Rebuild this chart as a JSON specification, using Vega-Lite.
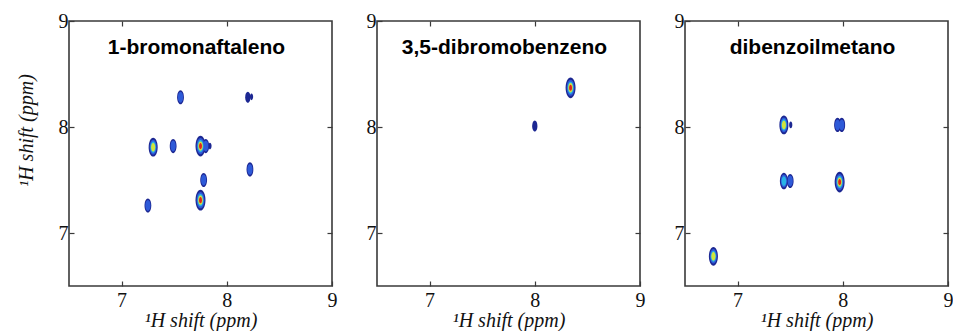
{
  "$schema": "https://vega.github.io/schema/vega-lite/v6.json",
  "background": "white",
  "padding": {"left": 15, "top": 10, "right": 0, "bottom": 0},
  "bounds": "flush",
  "spacing": 45,
  "datasets": {
    "peaks": [
      {"panel": "A", "f2": 7.56, "f1": 8.28, "intensity": 2},
      {"panel": "A", "f2": 8.2, "f1": 8.28, "intensity": 1},
      {"panel": "A", "f2": 8.235, "f1": 8.285, "intensity": 0},
      {"panel": "A", "f2": 7.3, "f1": 7.81, "intensity": 4},
      {"panel": "A", "f2": 7.49, "f1": 7.82, "intensity": 2},
      {"panel": "A", "f2": 7.75, "f1": 7.82, "intensity": 5},
      {"panel": "A", "f2": 7.8, "f1": 7.82, "intensity": 2},
      {"panel": "A", "f2": 7.84, "f1": 7.82, "intensity": 0},
      {"panel": "A", "f2": 7.78, "f1": 7.5, "intensity": 2},
      {"panel": "A", "f2": 7.75, "f1": 7.31, "intensity": 5},
      {"panel": "A", "f2": 8.22, "f1": 7.6, "intensity": 2},
      {"panel": "A", "f2": 7.25, "f1": 7.26, "intensity": 2},
      {"panel": "B", "f2": 8.0, "f1": 8.01, "intensity": 1},
      {"panel": "B", "f2": 8.34, "f1": 8.37, "intensity": 5},
      {"panel": "C", "f2": 6.77, "f1": 6.78, "intensity": 4},
      {"panel": "C", "f2": 7.44, "f1": 8.02, "intensity": 4},
      {"panel": "C", "f2": 7.505, "f1": 8.02, "intensity": 0},
      {"panel": "C", "f2": 7.95, "f1": 8.02, "intensity": 2},
      {"panel": "C", "f2": 7.99, "f1": 8.02, "intensity": 2},
      {"panel": "C", "f2": 7.44, "f1": 7.49, "intensity": 3},
      {"panel": "C", "f2": 7.5, "f1": 7.49, "intensity": 2},
      {"panel": "C", "f2": 7.97, "f1": 7.48, "intensity": 5}
    ]
  },
  "config": {
    "view": {"stroke": "#3a3a3a", "strokeWidth": 1.6},
    "axis": {
      "grid": false, "domain": false, "ticks": true, "tickSize": -5, "tickColor": "#3a3a3a", "tickWidth": 1.2,
      "labelFont": "Liberation Serif", "labelFontSize": 20, "labelColor": "#111", "labelFlush": false, "labelOverlap": false,
      "titleFont": "Liberation Serif", "titleFontStyle": "italic", "titleFontWeight": "normal", "titleFontSize": 20, "titleColor": "#111"
    },
    "axisX": {"labelPadding": 9, "titlePadding": 0},
    "axisY": {"labelPadding": 6, "titlePadding": 22},
    "title": {"font": "Liberation Sans", "fontSize": 21, "fontWeight": "bold", "color": "#000", "anchor": "middle", "frame": "group", "baseline": "alphabetic", "offset": -47}
  },
  "hconcat": [
    {
      "width": 263, "height": 265,
      "title": {"text": "1-bromonaftaleno", "dx": -4},
      "data": {"name": "peaks"},
      "transform": [{"filter": "datum.panel === 'A'"}],
      "layer": [
        {"mark": {"type": "point", "shape": "M0,-1C0.265,-1 0.48,-0.552 0.48,0C0.48,0.552 0.265,1 0,1C-0.265,1 -0.48,0.552 -0.48,0C-0.48,-0.552 -0.265,-1 0,-1Z", "filled": true, "color": "#1c2792", "opacity": 1, "strokeWidth": 0},
         "encoding": {
           "x": {"field": "f2", "type": "quantitative", "scale": {"domain": [6.5, 9], "nice": false, "zero": false}, "axis": {"values": [7, 8, 9], "title": "¹H shift (ppm)"}},
           "y": {"field": "f1", "type": "quantitative", "scale": {"domain": [6.5, 9], "nice": false, "zero": false}, "axis": {"values": [7, 8, 9], "title": "¹H shift (ppm)", "titleY": 109}},
           "size": {"field": "intensity", "type": "quantitative", "scale": {"domain": [0, 5], "range": [45, 430], "zero": false}, "legend": null}}},
        {"transform": [{"filter": "datum.intensity >= 2"}],
         "mark": {"type": "point", "shape": "M0,-1C0.265,-1 0.48,-0.552 0.48,0C0.48,0.552 0.265,1 0,1C-0.265,1 -0.48,0.552 -0.48,0C-0.48,-0.552 -0.265,-1 0,-1Z", "filled": true, "color": "#2e5ad8", "opacity": 1, "strokeWidth": 0},
         "encoding": {
           "x": {"field": "f2", "type": "quantitative", "scale": {"domain": [6.5, 9], "nice": false, "zero": false}, "axis": null},
           "y": {"field": "f1", "type": "quantitative", "scale": {"domain": [6.5, 9], "nice": false, "zero": false}, "axis": null},
           "size": {"field": "intensity", "type": "quantitative", "scale": {"domain": [0, 5], "range": [26, 260], "zero": false}, "legend": null}}},
        {"transform": [{"filter": "datum.intensity >= 3"}],
         "mark": {"type": "point", "shape": "M0,-1C0.265,-1 0.48,-0.552 0.48,0C0.48,0.552 0.265,1 0,1C-0.265,1 -0.48,0.552 -0.48,0C-0.48,-0.552 -0.265,-1 0,-1Z", "filled": true, "color": "#28b4e6", "opacity": 1, "strokeWidth": 0},
         "encoding": {
           "x": {"field": "f2", "type": "quantitative", "scale": {"domain": [6.5, 9], "nice": false, "zero": false}, "axis": null},
           "y": {"field": "f1", "type": "quantitative", "scale": {"domain": [6.5, 9], "nice": false, "zero": false}, "axis": null},
           "size": {"field": "intensity", "type": "quantitative", "scale": {"domain": [0, 5], "range": [15, 150], "zero": false}, "legend": null}}},
        {"transform": [{"filter": "datum.intensity >= 4"}],
         "mark": {"type": "point", "shape": "M0,-1C0.265,-1 0.48,-0.552 0.48,0C0.48,0.552 0.265,1 0,1C-0.265,1 -0.48,0.552 -0.48,0C-0.48,-0.552 -0.265,-1 0,-1Z", "filled": true, "color": "#d2e43c", "opacity": 1, "strokeWidth": 0},
         "encoding": {
           "x": {"field": "f2", "type": "quantitative", "scale": {"domain": [6.5, 9], "nice": false, "zero": false}, "axis": null},
           "y": {"field": "f1", "type": "quantitative", "scale": {"domain": [6.5, 9], "nice": false, "zero": false}, "axis": null},
           "size": {"field": "intensity", "type": "quantitative", "scale": {"domain": [0, 5], "range": [9, 88], "zero": false}, "legend": null}}},
        {"transform": [{"filter": "datum.intensity >= 5"}],
         "mark": {"type": "point", "shape": "M0,-1C0.265,-1 0.48,-0.552 0.48,0C0.48,0.552 0.265,1 0,1C-0.265,1 -0.48,0.552 -0.48,0C-0.48,-0.552 -0.265,-1 0,-1Z", "filled": true, "color": "#e3241b", "opacity": 1, "strokeWidth": 0},
         "encoding": {
           "x": {"field": "f2", "type": "quantitative", "scale": {"domain": [6.5, 9], "nice": false, "zero": false}, "axis": null},
           "y": {"field": "f1", "type": "quantitative", "scale": {"domain": [6.5, 9], "nice": false, "zero": false}, "axis": null},
           "size": {"field": "intensity", "type": "quantitative", "scale": {"domain": [0, 5], "range": [4, 38], "zero": false}, "legend": null}}},
        {"mark": {"type": "point", "opacity": 0},
         "encoding": {
           "x": {"field": "f2", "type": "quantitative", "scale": {"domain": [6.5, 9], "nice": false, "zero": false}, "axis": {"orient": "top", "values": [7, 8], "labels": false, "title": null}},
           "y": {"field": "f1", "type": "quantitative", "scale": {"domain": [6.5, 9], "nice": false, "zero": false}, "axis": {"orient": "right", "values": [7, 8], "labels": false, "title": null}}}}
      ],
      "resolve": {"scale": {"size": "independent"}, "axis": {"x": "independent", "y": "independent"}}
    },
    {
      "width": 263, "height": 265,
      "title": {"text": "3,5-dibromobenzeno", "dx": -4},
      "data": {"name": "peaks"},
      "transform": [{"filter": "datum.panel === 'B'"}],
      "layer": [
        {"mark": {"type": "point", "shape": "M0,-1C0.265,-1 0.48,-0.552 0.48,0C0.48,0.552 0.265,1 0,1C-0.265,1 -0.48,0.552 -0.48,0C-0.48,-0.552 -0.265,-1 0,-1Z", "filled": true, "color": "#1c2792", "opacity": 1, "strokeWidth": 0},
         "encoding": {
           "x": {"field": "f2", "type": "quantitative", "scale": {"domain": [6.5, 9], "nice": false, "zero": false}, "axis": {"values": [7, 8, 9], "title": "¹H shift (ppm)"}},
           "y": {"field": "f1", "type": "quantitative", "scale": {"domain": [6.5, 9], "nice": false, "zero": false}, "axis": {"values": [7, 8, 9], "title": null}},
           "size": {"field": "intensity", "type": "quantitative", "scale": {"domain": [0, 5], "range": [45, 430], "zero": false}, "legend": null}}},
        {"transform": [{"filter": "datum.intensity >= 2"}],
         "mark": {"type": "point", "shape": "M0,-1C0.265,-1 0.48,-0.552 0.48,0C0.48,0.552 0.265,1 0,1C-0.265,1 -0.48,0.552 -0.48,0C-0.48,-0.552 -0.265,-1 0,-1Z", "filled": true, "color": "#2e5ad8", "opacity": 1, "strokeWidth": 0},
         "encoding": {
           "x": {"field": "f2", "type": "quantitative", "scale": {"domain": [6.5, 9], "nice": false, "zero": false}, "axis": null},
           "y": {"field": "f1", "type": "quantitative", "scale": {"domain": [6.5, 9], "nice": false, "zero": false}, "axis": null},
           "size": {"field": "intensity", "type": "quantitative", "scale": {"domain": [0, 5], "range": [26, 260], "zero": false}, "legend": null}}},
        {"transform": [{"filter": "datum.intensity >= 3"}],
         "mark": {"type": "point", "shape": "M0,-1C0.265,-1 0.48,-0.552 0.48,0C0.48,0.552 0.265,1 0,1C-0.265,1 -0.48,0.552 -0.48,0C-0.48,-0.552 -0.265,-1 0,-1Z", "filled": true, "color": "#28b4e6", "opacity": 1, "strokeWidth": 0},
         "encoding": {
           "x": {"field": "f2", "type": "quantitative", "scale": {"domain": [6.5, 9], "nice": false, "zero": false}, "axis": null},
           "y": {"field": "f1", "type": "quantitative", "scale": {"domain": [6.5, 9], "nice": false, "zero": false}, "axis": null},
           "size": {"field": "intensity", "type": "quantitative", "scale": {"domain": [0, 5], "range": [15, 150], "zero": false}, "legend": null}}},
        {"transform": [{"filter": "datum.intensity >= 4"}],
         "mark": {"type": "point", "shape": "M0,-1C0.265,-1 0.48,-0.552 0.48,0C0.48,0.552 0.265,1 0,1C-0.265,1 -0.48,0.552 -0.48,0C-0.48,-0.552 -0.265,-1 0,-1Z", "filled": true, "color": "#d2e43c", "opacity": 1, "strokeWidth": 0},
         "encoding": {
           "x": {"field": "f2", "type": "quantitative", "scale": {"domain": [6.5, 9], "nice": false, "zero": false}, "axis": null},
           "y": {"field": "f1", "type": "quantitative", "scale": {"domain": [6.5, 9], "nice": false, "zero": false}, "axis": null},
           "size": {"field": "intensity", "type": "quantitative", "scale": {"domain": [0, 5], "range": [9, 88], "zero": false}, "legend": null}}},
        {"transform": [{"filter": "datum.intensity >= 5"}],
         "mark": {"type": "point", "shape": "M0,-1C0.265,-1 0.48,-0.552 0.48,0C0.48,0.552 0.265,1 0,1C-0.265,1 -0.48,0.552 -0.48,0C-0.48,-0.552 -0.265,-1 0,-1Z", "filled": true, "color": "#e3241b", "opacity": 1, "strokeWidth": 0},
         "encoding": {
           "x": {"field": "f2", "type": "quantitative", "scale": {"domain": [6.5, 9], "nice": false, "zero": false}, "axis": null},
           "y": {"field": "f1", "type": "quantitative", "scale": {"domain": [6.5, 9], "nice": false, "zero": false}, "axis": null},
           "size": {"field": "intensity", "type": "quantitative", "scale": {"domain": [0, 5], "range": [4, 38], "zero": false}, "legend": null}}},
        {"mark": {"type": "point", "opacity": 0},
         "encoding": {
           "x": {"field": "f2", "type": "quantitative", "scale": {"domain": [6.5, 9], "nice": false, "zero": false}, "axis": {"orient": "top", "values": [7, 8], "labels": false, "title": null}},
           "y": {"field": "f1", "type": "quantitative", "scale": {"domain": [6.5, 9], "nice": false, "zero": false}, "axis": {"orient": "right", "values": [7, 8], "labels": false, "title": null}}}}
      ],
      "resolve": {"scale": {"size": "independent"}, "axis": {"x": "independent", "y": "independent"}}
    },
    {
      "width": 263, "height": 265,
      "title": {"text": "dibenzoilmetano", "dx": -4},
      "data": {"name": "peaks"},
      "transform": [{"filter": "datum.panel === 'C'"}],
      "layer": [
        {"mark": {"type": "point", "shape": "M0,-1C0.265,-1 0.48,-0.552 0.48,0C0.48,0.552 0.265,1 0,1C-0.265,1 -0.48,0.552 -0.48,0C-0.48,-0.552 -0.265,-1 0,-1Z", "filled": true, "color": "#1c2792", "opacity": 1, "strokeWidth": 0},
         "encoding": {
           "x": {"field": "f2", "type": "quantitative", "scale": {"domain": [6.5, 9], "nice": false, "zero": false}, "axis": {"values": [7, 8, 9], "title": "¹H shift (ppm)"}},
           "y": {"field": "f1", "type": "quantitative", "scale": {"domain": [6.5, 9], "nice": false, "zero": false}, "axis": {"values": [7, 8, 9], "title": null}},
           "size": {"field": "intensity", "type": "quantitative", "scale": {"domain": [0, 5], "range": [45, 430], "zero": false}, "legend": null}}},
        {"transform": [{"filter": "datum.intensity >= 2"}],
         "mark": {"type": "point", "shape": "M0,-1C0.265,-1 0.48,-0.552 0.48,0C0.48,0.552 0.265,1 0,1C-0.265,1 -0.48,0.552 -0.48,0C-0.48,-0.552 -0.265,-1 0,-1Z", "filled": true, "color": "#2e5ad8", "opacity": 1, "strokeWidth": 0},
         "encoding": {
           "x": {"field": "f2", "type": "quantitative", "scale": {"domain": [6.5, 9], "nice": false, "zero": false}, "axis": null},
           "y": {"field": "f1", "type": "quantitative", "scale": {"domain": [6.5, 9], "nice": false, "zero": false}, "axis": null},
           "size": {"field": "intensity", "type": "quantitative", "scale": {"domain": [0, 5], "range": [26, 260], "zero": false}, "legend": null}}},
        {"transform": [{"filter": "datum.intensity >= 3"}],
         "mark": {"type": "point", "shape": "M0,-1C0.265,-1 0.48,-0.552 0.48,0C0.48,0.552 0.265,1 0,1C-0.265,1 -0.48,0.552 -0.48,0C-0.48,-0.552 -0.265,-1 0,-1Z", "filled": true, "color": "#28b4e6", "opacity": 1, "strokeWidth": 0},
         "encoding": {
           "x": {"field": "f2", "type": "quantitative", "scale": {"domain": [6.5, 9], "nice": false, "zero": false}, "axis": null},
           "y": {"field": "f1", "type": "quantitative", "scale": {"domain": [6.5, 9], "nice": false, "zero": false}, "axis": null},
           "size": {"field": "intensity", "type": "quantitative", "scale": {"domain": [0, 5], "range": [15, 150], "zero": false}, "legend": null}}},
        {"transform": [{"filter": "datum.intensity >= 4"}],
         "mark": {"type": "point", "shape": "M0,-1C0.265,-1 0.48,-0.552 0.48,0C0.48,0.552 0.265,1 0,1C-0.265,1 -0.48,0.552 -0.48,0C-0.48,-0.552 -0.265,-1 0,-1Z", "filled": true, "color": "#d2e43c", "opacity": 1, "strokeWidth": 0},
         "encoding": {
           "x": {"field": "f2", "type": "quantitative", "scale": {"domain": [6.5, 9], "nice": false, "zero": false}, "axis": null},
           "y": {"field": "f1", "type": "quantitative", "scale": {"domain": [6.5, 9], "nice": false, "zero": false}, "axis": null},
           "size": {"field": "intensity", "type": "quantitative", "scale": {"domain": [0, 5], "range": [9, 88], "zero": false}, "legend": null}}},
        {"transform": [{"filter": "datum.intensity >= 5"}],
         "mark": {"type": "point", "shape": "M0,-1C0.265,-1 0.48,-0.552 0.48,0C0.48,0.552 0.265,1 0,1C-0.265,1 -0.48,0.552 -0.48,0C-0.48,-0.552 -0.265,-1 0,-1Z", "filled": true, "color": "#e3241b", "opacity": 1, "strokeWidth": 0},
         "encoding": {
           "x": {"field": "f2", "type": "quantitative", "scale": {"domain": [6.5, 9], "nice": false, "zero": false}, "axis": null},
           "y": {"field": "f1", "type": "quantitative", "scale": {"domain": [6.5, 9], "nice": false, "zero": false}, "axis": null},
           "size": {"field": "intensity", "type": "quantitative", "scale": {"domain": [0, 5], "range": [4, 38], "zero": false}, "legend": null}}},
        {"mark": {"type": "point", "opacity": 0},
         "encoding": {
           "x": {"field": "f2", "type": "quantitative", "scale": {"domain": [6.5, 9], "nice": false, "zero": false}, "axis": {"orient": "top", "values": [7, 8], "labels": false, "title": null}},
           "y": {"field": "f1", "type": "quantitative", "scale": {"domain": [6.5, 9], "nice": false, "zero": false}, "axis": {"orient": "right", "values": [7, 8], "labels": false, "title": null}}}}
      ],
      "resolve": {"scale": {"size": "independent"}, "axis": {"x": "independent", "y": "independent"}}
    }
  ]
}
